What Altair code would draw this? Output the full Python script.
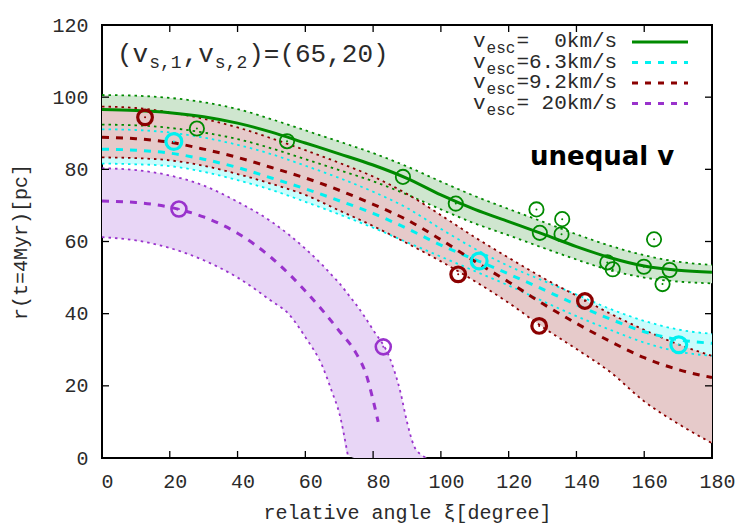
import altair as alt
import pandas as pd

# ---------------------------------------------------------------- data
angle_grid = list(range(0, 181, 10))

# v_esc = 0 km/s
green_mid = [96.6, 96.3, 95.7, 94.6, 92.8, 90.3, 87.3, 84.3, 81.2, 77.5,
             72.9, 68.9, 65.5, 62.1, 58.6, 55.5, 53.2, 52.0, 51.5]
green_hi = [100.6, 100.4, 99.8, 98.6, 96.7, 93.9, 90.8, 87.7, 84.5, 80.8,
            76.6, 72.6, 69.0, 65.5, 62.0, 58.8, 56.2, 54.4, 53.5]
green_lo = [92.4, 92.2, 91.5, 90.2, 88.4, 85.8, 82.8, 79.8, 76.7, 73.0,
            68.9, 65.0, 61.7, 58.3, 55.0, 52.0, 50.0, 48.9, 48.4]

# v_esc = 6.3 km/s
cyan_mid = [85.6, 85.3, 84.5, 82.8, 80.5, 77.6, 74.6, 71.3, 67.8, 63.6,
            59.0, 55.0, 51.0, 46.8, 42.5, 38.5, 35.0, 32.8, 31.8]
cyan_hi = [91.1, 90.9, 90.2, 88.8, 86.8, 84.2, 81.0, 77.6, 73.8, 69.3,
           63.5, 58.0, 53.2, 49.2, 45.3, 41.3, 38.0, 35.6, 34.4]
cyan_lo = [81.6, 81.4, 80.9, 79.3, 77.0, 74.3, 71.0, 67.5, 63.8, 59.8,
           55.8, 51.8, 47.8, 43.5, 39.3, 35.5, 32.0, 29.5, 28.3]

# v_esc = 9.2 km/s
red_mid = [88.9, 88.5, 87.5, 85.6, 83.3, 80.5, 77.6, 74.2, 70.3, 66.0,
           60.5, 54.5, 48.8, 42.8, 37.3, 32.3, 27.8, 24.5, 22.3]
red_hi = [97.4, 97.0, 95.8, 94.0, 91.6, 88.6, 85.3, 81.8, 78.0, 73.2,
          67.3, 61.2, 55.5, 50.0, 45.0, 40.0, 35.5, 31.5, 28.3]
red_lo = [83.3, 83.1, 82.5, 81.0, 78.7, 76.0, 72.9, 68.6, 64.3, 59.5,
          54.5, 49.0, 43.0, 36.3, 30.2, 23.8, 15.7, 9.5, 4.1]

# v_esc = 20 km/s
purple_band_x = [0, 10, 20, 30, 40, 50, 55, 60, 65, 68, 70, 72.5,
                 75, 80, 85, 88, 90, 92, 94, 96]
purple_hi = [80.3, 79.8, 78.3, 75.5, 71.0, 65.5, 62.0, 58.0, 53.5, 50.5,
             48.5, 45.5, 42.5, 35.5, 27.5, 18.5, 10.0, 3.5, 1.0, 0.0]
purple_lo = [61.2, 60.3, 58.2, 54.8, 50.0, 43.5, 40.0, 33.5, 25.5, 18.0,
             12.5, 1.0, 0, 0, 0, 0, 0, 0, 0, 0]
purple_lo_end = 12  # the lower edge curve stops where it reaches the axis
purple_mid_x = [0, 10, 20, 30, 40, 50, 60, 70, 75, 78, 80, 81.5]
purple_mid = [71.2, 70.8, 69.5, 66.8, 62.3, 55.5, 46.3, 35.2, 29.0, 23.0, 16.0, 10.0]

# observed pairs
green_pts_x = [28.0, 54.6, 88.8, 104.4, 128.2, 129.2, 135.8, 135.6, 149.1,
               150.7, 159.9, 162.9, 165.4, 167.5]
green_pts_y = [91.3, 87.8, 77.9, 70.5, 68.9, 62.4, 66.2, 62.0, 54.2,
               52.3, 53.0, 60.6, 48.2, 52.1]
cyan_pts_x = [21.2, 111.3, 170.2]
cyan_pts_y = [87.7, 54.6, 31.4]
red_pts_x = [12.7, 105.1, 129.0, 142.5]
red_pts_y = [94.4, 50.9, 36.6, 43.5]
purple_pts_x = [22.7, 83.0]
purple_pts_y = [69.0, 30.8]

x_ticks = list(range(0, 181, 20))
y_ticks = list(range(0, 121, 20))

legend_values = ["\u00a0\u00a00", "6.3", "9.2", "\u00a020"]

# ---------------------------------------------------------------- styling
W, H = 610, 433
MONO = "Liberation Mono"
TXT = "#2a2a2a"
GREEN, CYAN, RED, PURPLE = "#008a00", "#00f0f0", "#8b0000", "#9932cc"
GREEN_F, CYAN_F, RED_F, PURPLE_F = "#cfe6cf", "#c9fdfd", "#e6caca", "#e8d6f6"

x_scale = alt.Scale(domain=[0, 180], nice=False, zero=False)
y_scale = alt.Scale(domain=[0, 120], nice=False, zero=False)

x_axis = alt.Axis(values=x_ticks, title="relative angle ξ[degree]",
                  labelFont=MONO, labelFontSize=20, labelColor=TXT,
                  labelPadding=13, labelOffset=5, labelFlush=False,
                  ticks=False, domain=False, grid=False,
                  titleFont=MONO, titleFontSize=20, titleFontWeight="normal",
                  titleColor=TXT, titleY=60, titleBaseline="alphabetic")
y_axis = alt.Axis(values=y_ticks, title="r(t=4Myr)[pc]",
                  labelFont=MONO, labelFontSize=20, labelColor=TXT,
                  labelPadding=14, labelFlush=False,
                  ticks=False, domain=False, grid=False,
                  titleFont=MONO, titleFontSize=20, titleFontWeight="normal",
                  titleColor=TXT, titleAngle=270, titleX=-76, titleY=H / 2,
                  titleBaseline="alphabetic", titleAlign="center")


def X(field="x"):
    return alt.X(f"{field}:Q", scale=x_scale, axis=x_axis)


def Y(field="y"):
    return alt.Y(f"{field}:Q", scale=y_scale, axis=y_axis)


def band_df(xs, hi, lo):
    return pd.DataFrame({"x": xs, "hi": hi, "lo": lo})


def line_df(xs, ys):
    return pd.DataFrame({"x": xs, "y": ys})


layers = []

# shaded uncertainty bands
bands = [
    (band_df(angle_grid, green_hi, green_lo), GREEN_F),
    (band_df(angle_grid, cyan_hi, cyan_lo), CYAN_F),
    (band_df(angle_grid, red_hi, red_lo), RED_F),
    (band_df(purple_band_x, purple_hi, purple_lo), PURPLE_F),
]
for df, fill in bands:
    layers.append(
        alt.Chart(df).mark_area(color=fill, opacity=1, interpolate="monotone")
        .encode(x=X(), y=Y("hi"), y2="lo:Q")
    )

# dotted band edges
edges = [
    (line_df(angle_grid, green_hi), GREEN), (line_df(angle_grid, green_lo), GREEN),
    (line_df(angle_grid, cyan_hi), CYAN), (line_df(angle_grid, cyan_lo), CYAN),
    (line_df(angle_grid, red_hi), RED), (line_df(angle_grid, red_lo), RED),
    (line_df(purple_band_x, purple_hi), PURPLE),
    (line_df(purple_band_x[:purple_lo_end], purple_lo[:purple_lo_end]), PURPLE),
]
for df, col in edges:
    layers.append(
        alt.Chart(df).mark_line(color=col, strokeWidth=1.8, strokeDash=[2.5, 4],
                                interpolate="monotone")
        .encode(x=X(), y=Y())
    )

# central curves
centres = [
    (line_df(angle_grid, cyan_mid), CYAN, [7, 7]),
    (line_df(angle_grid, red_mid), RED, [7, 7]),
    (line_df(purple_mid_x, purple_mid), PURPLE, [7, 7]),
    (line_df(angle_grid, green_mid), GREEN, None),
]
for df, col, dash in centres:
    kw = dict(color=col, strokeWidth=3, interpolate="monotone")
    if dash:
        kw["strokeDash"] = dash
    layers.append(alt.Chart(df).mark_line(**kw).encode(x=X(), y=Y()))

# data points: open circle with a dot in the middle
points = [
    (line_df(green_pts_x, green_pts_y), GREEN, 205, 1.8),
    (line_df(red_pts_x, red_pts_y), RED, 215, 3.2),
    (line_df(cyan_pts_x, cyan_pts_y), CYAN, 250, 3.2),
    (line_df(purple_pts_x, purple_pts_y), PURPLE, 225, 2.6),
]
for df, col, size, sw in points:
    layers.append(
        alt.Chart(df).mark_point(shape="circle", filled=False, size=size,
                                 strokeWidth=sw, color=col, opacity=1)
        .encode(x=X(), y=Y())
    )
    layers.append(
        alt.Chart(df).mark_point(shape="circle", filled=True, size=4,
                                 color=col, opacity=1)
        .encode(x=X(), y=Y())
    )

# inward ticks on all four sides
xt = pd.DataFrame({"x": x_ticks})
yt = pd.DataFrame({"y": y_ticks})
tick_len = 7
layers.append(alt.Chart(xt).mark_rule(color="#000", strokeWidth=1.3)
              .encode(x=X(), y=alt.value(H), y2=alt.value(H - tick_len)))
layers.append(alt.Chart(xt).mark_rule(color="#000", strokeWidth=1.3)
              .encode(x=X(), y=alt.value(0), y2=alt.value(tick_len)))
layers.append(alt.Chart(yt).mark_rule(color="#000", strokeWidth=1.3)
              .encode(y=Y(), x=alt.value(0), x2=alt.value(tick_len)))
layers.append(alt.Chart(yt).mark_rule(color="#000", strokeWidth=1.3)
              .encode(y=Y(), x=alt.value(W), x2=alt.value(W - tick_len)))

one = pd.DataFrame({"k": [0]})


def txt(s, px, py, size, font=MONO, weight="normal", color=TXT):
    return (alt.Chart(one)
            .mark_text(text=s, font=font, fontSize=size, fontWeight=weight,
                       color=color, align="left", baseline="alphabetic")
            .encode(x=alt.value(px), y=alt.value(py)))


# parameter label (v_{s,1}, v_{s,2}) = (65,20)
MAIN, SUB = 26, 18
adv_m, adv_s = 0.6 * MAIN, 0.6 * SUB
bx, by, sub_dy = 15, 37, 6
layers.append(txt("(v", bx, by, MAIN))
x1 = bx + 2 * adv_m + 1
layers.append(txt("s,1", x1, by + sub_dy, SUB))
x2 = x1 + 3 * adv_s + 1
layers.append(txt(",v", x2, by, MAIN))
x3 = x2 + 2 * adv_m + 1
layers.append(txt("s,2", x3, by + sub_dy, SUB))
x4 = x3 + 3 * adv_s + 1
layers.append(txt(")=(65,20)", x4, by, MAIN))

# legend
LEG, LSUB = 21, 16
lx, ly0, ldy = 371, 22, 20.5
legend_styles = [(GREEN, None), (CYAN, [6, 7]), (RED, [6, 7]), (PURPLE, [6, 7])]
for i, (val, (col, dash)) in enumerate(zip(legend_values, legend_styles)):
    yb = ly0 + i * ldy
    layers.append(txt("v", lx, yb, LEG))
    layers.append(txt("esc", lx + 0.6 * LEG + 1, yb + 6, LSUB))
    layers.append(txt("=" + val + "km/s", lx + 0.6 * LEG + 3 * 0.6 * LSUB + 2, yb, LEG))
    kw = dict(color=col, strokeWidth=3)
    if dash:
        kw["strokeDash"] = dash
    layers.append(alt.Chart(one).mark_rule(**kw)
                  .encode(x=alt.value(530), x2=alt.value(586), y=alt.value(yb - 5)))

layers.append(txt("unequal v", 428, 140, 26, font="DejaVu Sans", weight="bold",
                  color="#000"))

chart = (
    alt.layer(*layers)
    .properties(width=W, height=H,
                autosize=alt.AutoSizeParams(type="none"),
                padding={"left": 102, "top": 25, "right": 38, "bottom": 67},
                background="white")
    .configure_view(stroke="#000", strokeWidth=2)
)

chart.save("out.html", embed_options={"renderer": "svg", "actions": False})
